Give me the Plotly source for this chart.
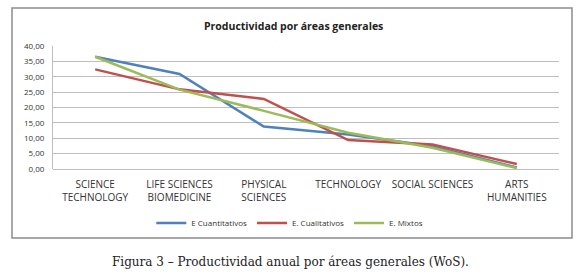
import plotly.graph_objects as go

categories = ["SCIENCE<br>TECHNOLOGY", "LIFE SCIENCES<br>BIOMEDICINE", "PHYSICAL<br>SCIENCES",
              "TECHNOLOGY", "SOCIAL SCIENCES", "ARTS<br>HUMANITIES"]
cuantitativos = [36.5, 30.9, 13.8, 11.2, 7.4, 0.5]
cualitativos = [32.4, 25.9, 22.8, 9.4, 8.0, 1.6]
mixtos = [36.5, 25.8, 18.9, 11.8, 6.9, 0.3]
yticks = [0, 5, 10, 15, 20, 25, 30, 35, 40]
ytick_labels = ["0,00", "5,00", "10,00", "15,00", "20,00", "25,00", "30,00", "35,00", "40,00"]

W, H = 580, 275
ML, MR, MT, MB = 53, 21, 46, 106

fig = go.Figure()
series = [("E Cuantitativos", cuantitativos, "#4F81BD"),
          ("E. Cualitativos", cualitativos, "#C0504D"),
          ("E. Mixtos", mixtos, "#9BBB59")]
for name, vals, col in series:
    fig.add_trace(go.Scatter(x=categories, y=vals, name=name, mode="lines",
                             line=dict(color=col, width=2.5)))

font = "Open Sans"
fig.update_layout(
    width=W, height=H,
    margin=dict(l=ML, r=MR, t=MT, b=MB),
    paper_bgcolor="white", plot_bgcolor="white",
    font=dict(family=font, size=9, color="#333333"),
    showlegend=True,
    legend=dict(orientation="h", x=0.468, xanchor="center", y=-0.44, yanchor="middle",
                font=dict(size=8, color="#333333"), itemwidth=30, tracegroupgap=0,
                bgcolor="rgba(0,0,0,0)"),
    xaxis=dict(type="category", showgrid=False, showline=False, ticks="",
               tickfont=dict(size=10, color="#333333"), range=[-0.5, 5.5],
               ticklabelstandoff=8),
    yaxis=dict(range=[0, 40], tickvals=yticks, ticktext=ytick_labels,
               showgrid=True, gridcolor="#BEBEBE", gridwidth=1,
               showline=True, linecolor="#BEBEBE", linewidth=1,
               ticks="", tickfont=dict(size=8, color="#333333"), zeroline=True,
               zerolinecolor="#BEBEBE", zerolinewidth=1, ticklabelstandoff=6),
)

pw = W - ML - MR
ph = H - MT - MB
def px(x):
    return (x - ML) / pw
def py(y):
    return (H - MB - y) / ph

# outer chart border
fig.add_shape(type="rect", xref="paper", yref="paper",
              x0=px(12), x1=px(572), y0=py(238), y1=py(8),
              line=dict(color="#8C8C8C", width=1.5), layer="below")

fig.add_annotation(text="<b>Productividad por áreas generales</b>", xref="paper", yref="paper",
                   x=px(293), y=py(26), showarrow=False, xanchor="center", yanchor="middle",
                   font=dict(family=font, size=10.5, color="#222222"))
fig.add_annotation(text="Figura 3 – Productividad anual por áreas generales (WoS).",
                   xref="paper", yref="paper", x=px(290), y=py(262), showarrow=False,
                   xanchor="center", yanchor="middle",
                   font=dict(family="DejaVu Serif", size=12, color="#222222"))

fig.write_html("out.html", config={"displayModeBar": False},
               post_script="document.body.style.margin='0';document.body.style.overflow='hidden';")
